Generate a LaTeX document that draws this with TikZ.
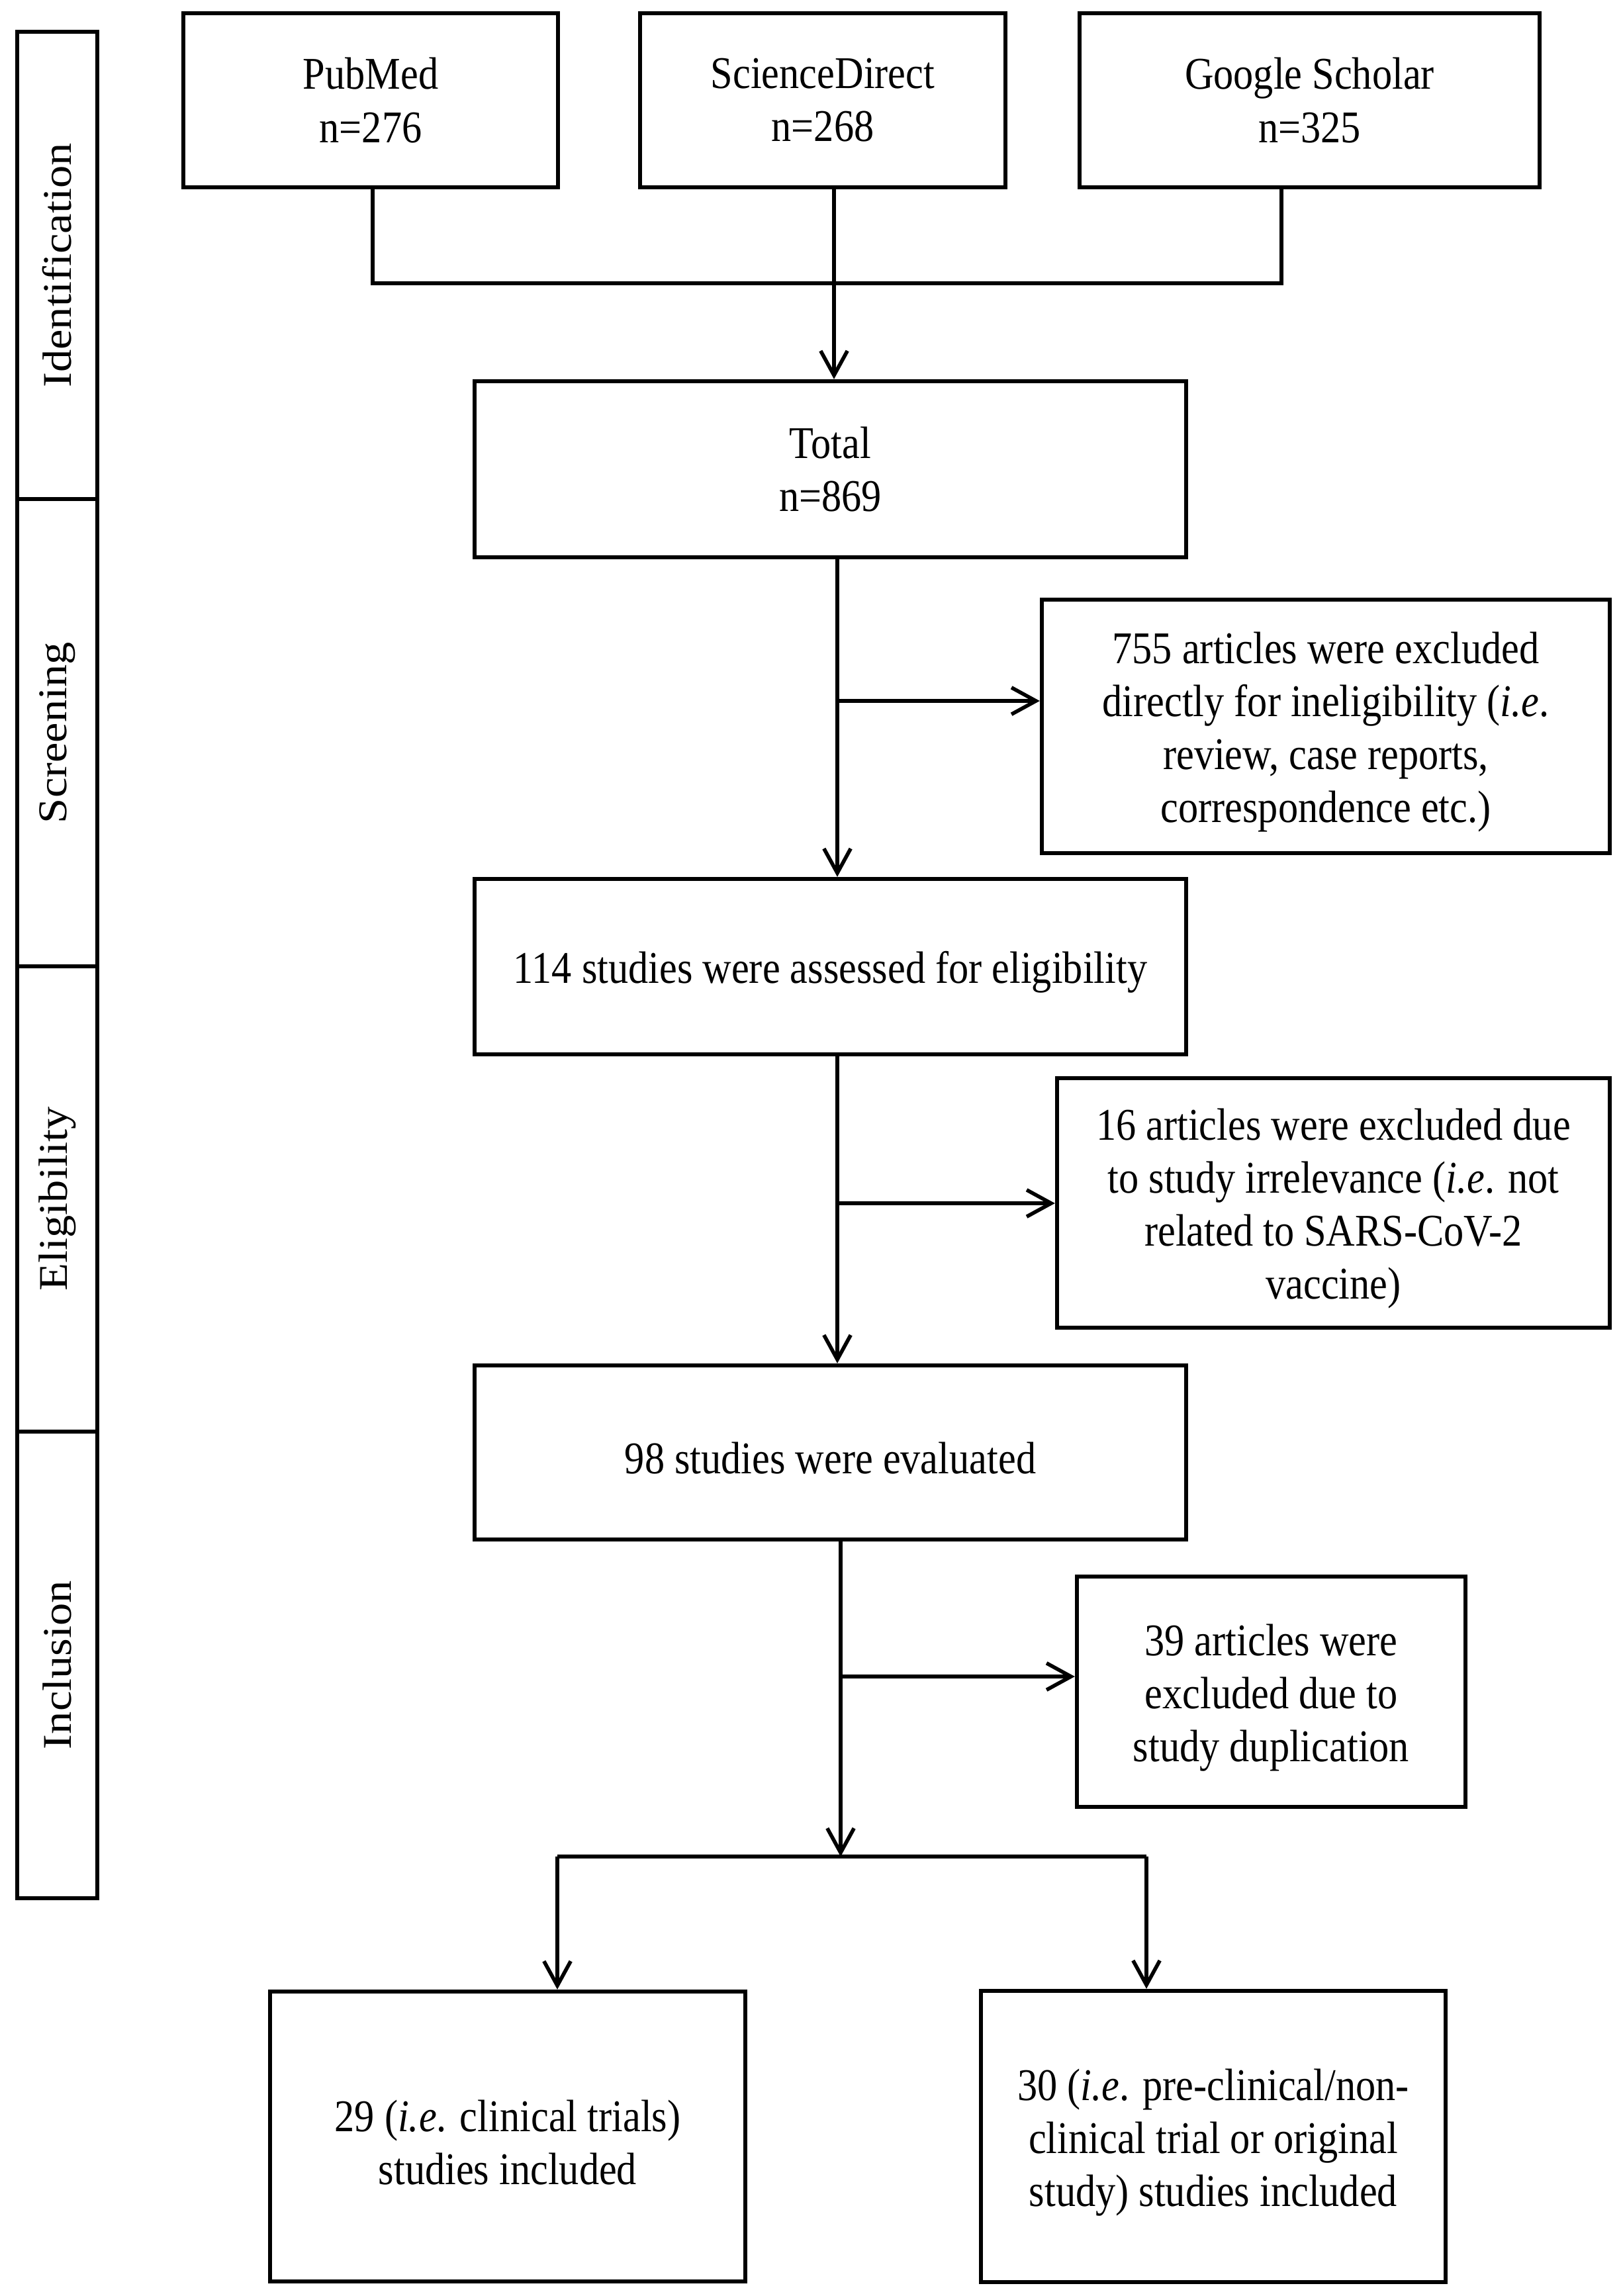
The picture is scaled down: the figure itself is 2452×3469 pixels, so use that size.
\documentclass[tikz,border=0pt]{standalone}
\usepackage{fontspec}
\setmainfont{Liberation Serif}[FakeStretch=0.88]
\newfontfamily\phasefont{Liberation Serif}
\usetikzlibrary{arrows.meta}
\newcommand\mytstrut{\rule{0pt}{18.5pt}}
\begin{document}
\begin{tikzpicture}[x=0.1mm,y=-0.1mm,
  box/.style={draw, line width=1.8pt, inner sep=0pt, align=center,
    font=\fontsize{19.5pt}{22.8pt}\selectfont},
  phasebox/.style={draw, line width=1.8pt, inner sep=0pt, minimum width=12.1mm,
    font=\phasefont\fontsize{19.5pt}{22.8pt}\selectfont},
  conn/.style={line width=1.6pt},
  arr/.style={conn, -{Straight Barb[length=10.5pt,width=11.5pt,line width=1.6pt]}}
]
\useasboundingbox (0,0) rectangle (2452,3469);
\fill[white] (0,0) rectangle (2452,3469);

% phase bar
\node[phasebox, minimum height=70.6mm] (ph1) at (86.5,401) {\rotatebox{90}{\scalebox{1}[0.9]{Identification}}};
\node[phasebox, minimum height=70.6mm] (ph2) at (86.5,1107) {\rotatebox{90}{\scalebox{1}[0.9]{Screening}}};
\node[phasebox, minimum height=70.3mm] (ph3) at (86.5,1811.5) {\rotatebox{90}{\scalebox{1}[0.9]{Eligibility}}};
\node[phasebox, minimum height=70.5mm] (ph4) at (86.5,2515.5) {\rotatebox{90}{\scalebox{1}[0.9]{Inclusion}}};

% boxes
\node[box, minimum width=56.6mm, minimum height=26.3mm] (pub) at (560,151.5) {PubMed\\n=276};
\node[box, minimum width=55.2mm, minimum height=26.3mm] (sd) at (1243,151.5) {ScienceDirect\\n=268};
\node[box, minimum width=69.5mm, minimum height=26.3mm] (gs) at (1978.5,151.5) {Google Scholar\\n=325};
\node[box, minimum width=107.5mm, minimum height=26.6mm] (total) at (1254.5,709) {Total\\n=869};
\node[box, minimum width=85.8mm, minimum height=38.3mm] (ex1) at (2003,1097.5)
  {\mytstrut 755 articles were excluded\\directly for ineligibility (\textit{i.e}.\\review, case reports,\\correspondence etc.)};
\node[box, minimum width=107.5mm, minimum height=26.5mm] (s114) at (1254.5,1460.5) {\mytstrut 114 studies were assessed for eligibility};
\node[box, minimum width=83.5mm, minimum height=37.7mm] (ex2) at (2014.5,1817.5)
  {\mytstrut 16 articles were excluded due\\to study irrelevance (\textit{i.e}. not\\related to SARS-CoV-2\\vaccine)};
\node[box, minimum width=107.5mm, minimum height=26.3mm] (s98) at (1254.5,2194.5) {\mytstrut 98 studies were evaluated};
\node[box, minimum width=58.7mm, minimum height=34.8mm] (ex3) at (1920.5,2556)
  {\mytstrut 39 articles were\\excluded due to\\study duplication};
\node[box, minimum width=71.8mm, minimum height=43.8mm] (inc1) at (767,3228)
  {\mytstrut 29 (\textit{i.e}. clinical trials)\\studies included};
\node[box, minimum width=70.2mm, minimum height=44mm] (inc2) at (1833,3228)
  {\mytstrut 30 (\textit{i.e}. pre-clinical/non-\\clinical trial or original\\study) studies included};

% connectors
\coordinate (ja) at (563,428);
\coordinate (jb) at (1936,428);
\coordinate (v1) at (1260,428);
\coordinate (v2) at (1265,0);
\coordinate (b1) at (1265,1059);
\coordinate (b2) at (1265,1818);
\coordinate (b3) at (1270,2533);
\coordinate (sp) at (1270,2805);
\coordinate (sl) at (842,2805);
\coordinate (sr) at (1732,2805);

\draw[conn] (pub.south -| ja) -- (ja) -- (jb) -- (gs.south -| jb);
\draw[arr] (sd.south -| v1) -- (total.north -| v1);
\draw[arr] (total.south -| v2) -- (s114.north -| v2);
\draw[arr] (b1) -- (b1 -| ex1.west);
\draw[arr] (s114.south -| v2) -- (s98.north -| v2);
\draw[arr] (b2) -- (b2 -| ex2.west);
\draw[arr] (s98.south -| b3) -- (sp);
\draw[arr] (b3) -- (b3 -| ex3.west);
\draw[conn] (sl) -- (sr);
\draw[arr] (sl) -- (inc1.north -| sl);
\draw[arr] (sr) -- (inc2.north -| sr);
\end{tikzpicture}
\end{document}
